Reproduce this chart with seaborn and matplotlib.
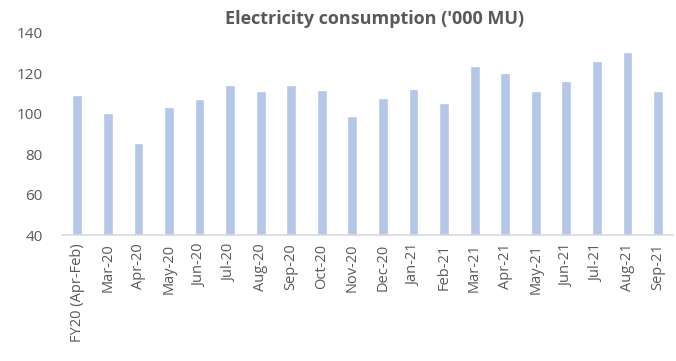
import matplotlib
matplotlib.use("Agg")
import matplotlib.pyplot as plt
import seaborn as sns
import pandas as pd

months = ["FY20 (Apr-Feb)", "Mar-20", "Apr-20", "May-20", "Jun-20", "Jul-20",
          "Aug-20", "Sep-20", "Oct-20", "Nov-20", "Dec-20", "Jan-21", "Feb-21",
          "Mar-21", "Apr-21", "May-21", "Jun-21", "Jul-21", "Aug-21", "Sep-21"]
consumption = [109.3, 100.5, 85.4, 103.4, 107.1, 114.0, 111.2, 114.1, 111.5,
               98.8, 107.7, 112.0, 105.1, 123.5, 119.9, 111.0, 116.1, 126.1,
               130.2, 111.2]
y_ticks = [40, 60, 80, 100, 120, 140]

df = pd.DataFrame({"month": months, "consumption": consumption})

sns.set_theme(style="white")
plt.rcParams["font.family"] = ["Open Sans", "DejaVu Sans"]

fig = plt.figure(figsize=(6.76, 3.61), dpi=100)
ax = fig.add_axes([0.0917, 0.348, 0.9043, 0.562])

sns.barplot(data=df, x="month", y="consumption", color="#B4C7E7",
            saturation=1, width=0.32, ax=ax)

ax.set_ylim(40, 140)
ax.set_xlim(-0.5, len(months) - 0.5)
ax.set_yticks(y_ticks)
ax.set_xlabel("")
ax.set_ylabel("")
ax.set_title("Electricity consumption ('000 MU)", fontsize=13, fontweight="bold",
             color="#595959", pad=6, x=0.512)

for side in ["top", "right", "left"]:
    ax.spines[side].set_visible(False)
ax.spines["bottom"].set_color("#D9D9D9")
ax.spines["bottom"].set_linewidth(1.2)

ax.tick_params(axis="y", length=0, pad=14, labelsize=11, labelcolor="#595959")
ax.tick_params(axis="x", length=0, pad=6, labelsize=10.5, labelcolor="#595959",
               labelrotation=90)

fig.savefig("out.png", dpi=100)
